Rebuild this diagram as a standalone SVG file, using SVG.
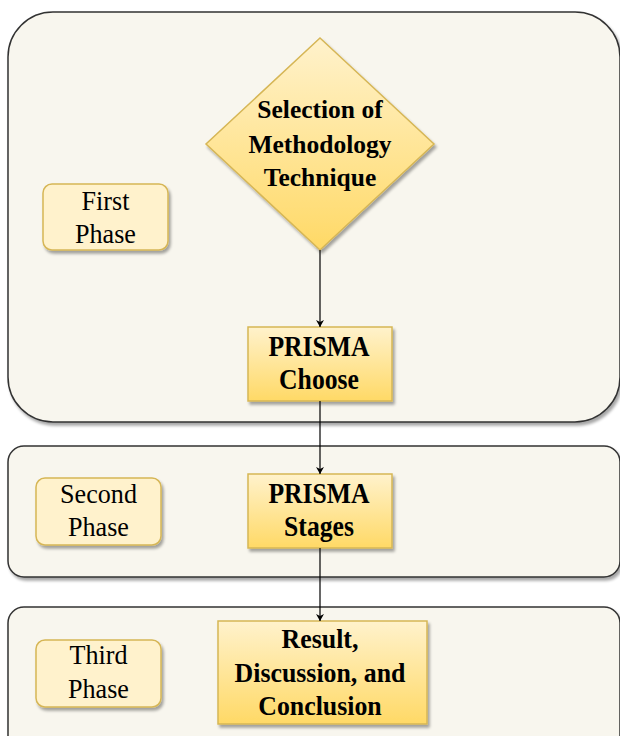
<svg xmlns="http://www.w3.org/2000/svg" width="620" height="736" viewBox="0 0 620 736">
<defs>
<linearGradient id="g" x1="0" y1="0" x2="0" y2="1">
<stop offset="0" stop-color="#fff2cc"/>
<stop offset="1" stop-color="#ffd966"/>
</linearGradient>
<filter id="sh" x="-10%" y="-10%" width="130%" height="130%">
<feGaussianBlur in="SourceAlpha" stdDeviation="1.5"/>
<feOffset dx="2" dy="3" result="b"/>
<feComponentTransfer><feFuncA type="linear" slope="0.35"/></feComponentTransfer>
<feMerge><feMergeNode/><feMergeNode in="SourceGraphic"/></feMerge>
</filter>
<marker id="arr" markerWidth="10" markerHeight="10" refX="8" refY="5" orient="auto" markerUnits="userSpaceOnUse">
<path d="M1,1 L8,5 L1,9 L3,5 Z" fill="#000"/>
</marker>
<style>
.cont{fill:#f8f6ee;stroke:#333;stroke-width:1.5;filter:url(#sh)}
.node{fill:url(#g);stroke:#d6b656;stroke-width:1.5;filter:url(#sh)}
.lbl{fill:#fff2cc;stroke:#d6b656;stroke-width:1.5;filter:url(#sh)}
text{font-family:"Liberation Serif","Times New Roman",serif;text-anchor:middle;fill:#000}
.dt{font-weight:bold;font-size:25.5px}
.pt{font-weight:bold;font-size:29px}
.rt{font-weight:bold;font-size:27.5px}
.nt{font-size:27.5px}
.ln{stroke:#000;stroke-width:1.2;fill:none;marker-end:url(#arr)}
</style>
</defs>
<g id="phase1">
<rect class="cont" x="8" y="12" width="612" height="410" rx="45"/>
</g>
<g id="phase2">
<rect class="cont" x="8" y="446" width="612" height="131" rx="16"/>
</g>
<g id="phase3">
<rect class="cont" x="8" y="607" width="612" height="160" rx="16"/>
</g>
<g id="first-phase">
<rect class="lbl" x="43" y="184" width="125" height="66" rx="9"/>
<g transform="translate(105.5 0) scale(0.95 1)">
<text class="nt" x="0" y="210">First</text>
<text class="nt" x="0" y="243">Phase</text>
</g>
</g>
<g id="second-phase">
<rect class="lbl" x="36" y="478" width="125" height="67" rx="9"/>
<g transform="translate(98.5 0) scale(0.95 1)">
<text class="nt" x="0" y="503">Second</text>
<text class="nt" x="0" y="536">Phase</text>
</g>
</g>
<g id="third-phase">
<rect class="lbl" x="36" y="640" width="125" height="67" rx="9"/>
<g transform="translate(98.5 0) scale(0.95 1)">
<text class="nt" x="0" y="664">Third</text>
<text class="nt" x="0" y="698">Phase</text>
</g>
</g>
<g id="selection">
<polygon class="node" points="320,38 434,144 320,250 206,144"/>
<text class="dt" x="320" y="118">Selection of</text>
<text class="dt" x="320" y="153">Methodology</text>
<text class="dt" x="320" y="186">Technique</text>
</g>
<g id="prisma-choose">
<rect class="node" x="248" y="327" width="144" height="74"/>
<g transform="translate(319 0) scale(0.885 1)">
<text class="pt" x="0" y="356">PRISMA</text>
<text class="pt" x="0" y="389">Choose</text>
</g>
</g>
<g id="prisma-stages">
<rect class="node" x="248" y="474" width="144" height="74"/>
<g transform="translate(319 0) scale(0.885 1)">
<text class="pt" x="0" y="503">PRISMA</text>
<text class="pt" x="0" y="536">Stages</text>
</g>
</g>
<g id="result">
<rect class="node" x="218" y="621" width="209" height="103"/>
<g transform="translate(320 0) scale(0.94 1)">
<text class="rt" x="0" y="648">Result,</text>
<text class="rt" x="0" y="682">Discussion, and</text>
<text class="rt" x="0" y="715">Conclusion</text>
</g>
</g>
<g id="connectors">
<line class="ln" x1="320" y1="250" x2="320" y2="327"/>
<line class="ln" x1="320" y1="401" x2="320" y2="474"/>
<line class="ln" x1="320" y1="548" x2="320" y2="621"/>
</g>
</svg>
